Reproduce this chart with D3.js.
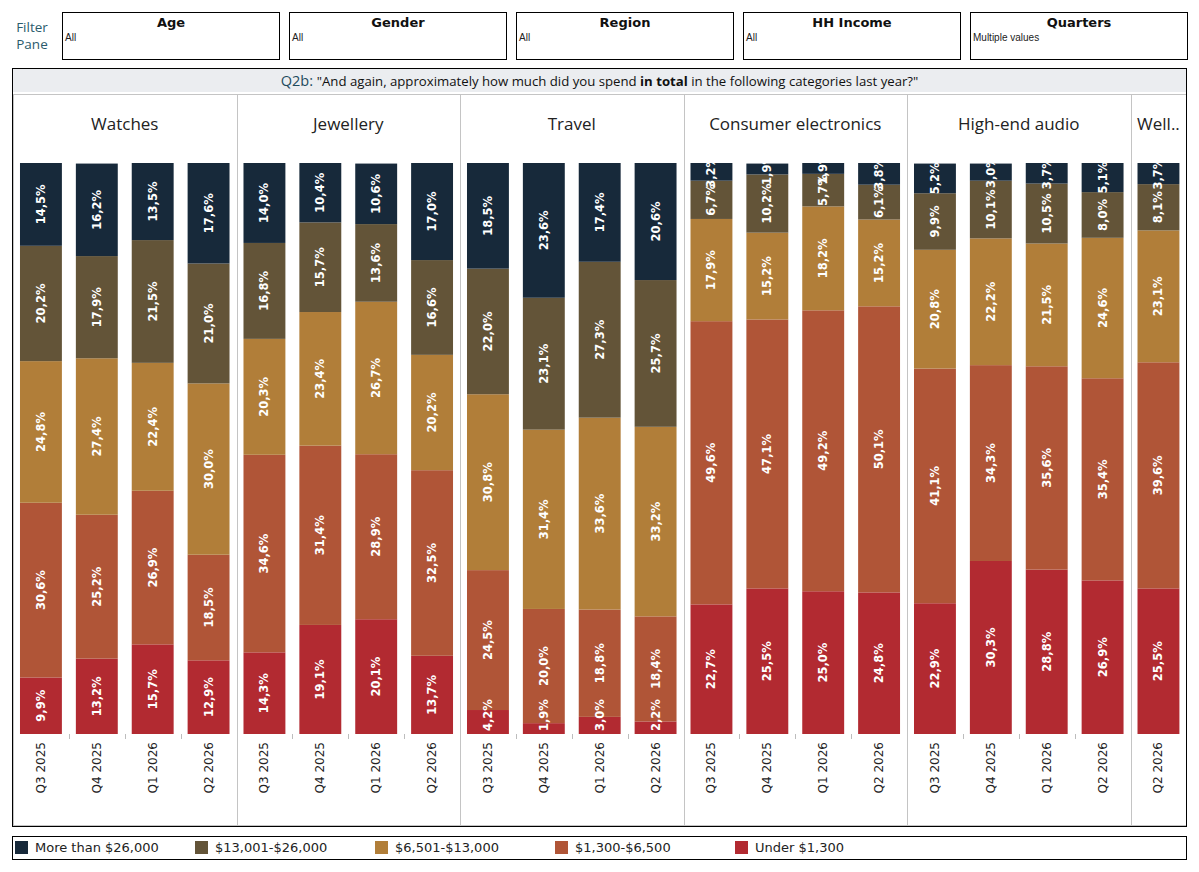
<!DOCTYPE html>
<html><head><meta charset="utf-8">
<script src="https://cdn.jsdelivr.net/npm/d3@7"></script>
<style>body{margin:0;background:#fff}svg{display:block}</style>
</head><body>
<svg id="c" width="1199" height="872"></svg>
<script>
const categories = ["Watches","Jewellery","Travel","Consumer electronics","High-end audio","Wellness"];
const categoryLabels = ["Watches","Jewellery","Travel","Consumer electronics","High-end audio","Well.."];
const quarters = ["Q3 2025","Q4 2025","Q1 2026","Q2 2026"];
const bands = ["Under $1,300","$1,300-$6,500","$6,501-$13,000","$13,001-$26,000","More than $26,000"];
const legendOrder = ["More than $26,000","$13,001-$26,000","$6,501-$13,000","$1,300-$6,500","Under $1,300"];
const colors = ["#b22a31","#b05537","#b17e39","#635438","#17293a"];
const filters = ["Age","Gender","Region","HH Income","Quarters"];
const filterValues = ["All","All","All","All","Multiple values"];

// values per band order: Under, 1300-6500, 6501-13000, 13001-26000, >26000
const watches = [[9.9,30.6,24.8,20.2,14.5],[13.2,25.2,27.4,17.9,16.2],[15.7,26.9,22.4,21.5,13.5],[12.9,18.5,30.0,21.0,17.6]];
const jewellery = [[14.3,34.6,20.3,16.8,14.0],[19.1,31.4,23.4,15.7,10.4],[20.1,28.9,26.7,13.6,10.6],[13.7,32.5,20.2,16.6,17.0]];
const travel = [[4.2,24.5,30.8,22.0,18.5],[1.9,20.0,31.4,23.1,23.6],[3.0,18.8,33.6,27.3,17.4],[2.2,18.4,33.2,25.7,20.6]];
const consumerElectronics = [[22.7,49.6,17.9,6.7,3.2],[25.5,47.1,15.2,10.2,1.9],[25.0,49.2,18.2,5.7,1.9],[24.8,50.1,15.2,6.1,3.8]];
const highEndAudio = [[22.9,41.1,20.8,9.9,5.2],[30.3,34.3,22.2,10.1,3.0],[28.8,35.6,21.5,10.5,3.7],[26.9,35.4,24.6,8.0,5.1]];
const wellness = [[25.5,39.6,23.1,8.1,3.7]];
const wellnessQuarters = ["Q2 2026"];

const seriesByCat = [watches,jewellery,travel,consumerElectronics,highEndAudio,wellness];
const quartersByCat = [quarters,quarters,quarters,quarters,quarters,wellnessQuarters];

const svg = d3.select("#c");
const F_SANS = "'Open Sans', sans-serif";
const F_DV = "'DejaVu Sans', Verdana, sans-serif";

// ---------- filter pane ----------
svg.append("text").attr("x",32).attr("y",32).attr("text-anchor","middle")
  .attr("font-family",F_SANS).attr("font-size",13.5).attr("fill","#2b5b6c").text("Filter");
svg.append("text").attr("x",32).attr("y",49).attr("text-anchor","middle")
  .attr("font-family",F_SANS).attr("font-size",13.5).attr("fill","#2b5b6c").text("Pane");
const fx = d3.scaleBand().domain(filters).range([62,1188]).paddingInner(9/227).paddingOuter(0);
filters.forEach((f,i)=>{
  const g = svg.append("g").attr("transform",`translate(${fx(f)},12)`);
  g.append("rect").attr("x",0.5).attr("y",0.5).attr("width",fx.bandwidth()-1).attr("height",47)
    .attr("fill","#fff").attr("stroke","#000");
  g.append("text").attr("x",fx.bandwidth()/2).attr("y",15).attr("text-anchor","middle")
    .attr("font-family",F_DV).attr("font-weight","bold").attr("font-size",13).attr("fill","#111").text(f);
  g.append("text").attr("x",3).attr("y",29).attr("font-family","'Liberation Sans', Arial, sans-serif")
    .attr("font-size",10).attr("fill","#222").text(filterValues[i]);
});

// ---------- frame & title ----------
const X0=12, X1=1187, Y0=68, Y1=826;
svg.append("rect").attr("x",X0+1).attr("y",Y0+1).attr("width",X1-X0-2).attr("height",23).attr("fill","#ebedf0");
const title = svg.append("text").attr("x",(X0+X1)/2).attr("y",86).attr("text-anchor","middle")
  .attr("font-family",F_SANS).attr("font-size",13.2).attr("fill","#111");
title.append("tspan").attr("fill","#1e4b5c").attr("font-size",14.5).text("Q2b: ");
title.append("tspan").text("\"And again, approximately how much did you spend ");
title.append("tspan").attr("font-weight","bold").text("in total");
title.append("tspan").text(" in the following categories last year?\"");

// ---------- scales ----------
const slots = [];
categories.forEach((c,ci)=>quartersByCat[ci].forEach(q=>slots.push(c+"|"+q)));
const x = d3.scaleBand().domain(slots).range([13,1186.4]).paddingInner(0.25).paddingOuter(0.125);
const PT=163, PB=734;
const y = d3.scaleLinear().domain([0,100]).range([PB,PT]);
const color = d3.scaleOrdinal().domain(bands).range(colors);

// panel area
svg.append("rect").attr("x",13.5).attr("y",94.5).attr("width",X1-X0-2).attr("height",Y1-95)
  .attr("fill","none").attr("stroke","#c4c4c4");

svg.append("clipPath").attr("id","plotclip").append("rect")
  .attr("x",13).attr("y",PT).attr("width",1174).attr("height",PB-PT+40);

const step = x.step();
const start = x(slots[0]) - x.paddingOuter()*step;
let idx = 0;
categories.forEach((c,ci)=>{
  const qs = quartersByCat[ci];
  const px0 = start + idx*step, px1 = start + (idx+qs.length)*step;
  if (ci>0) svg.append("line").attr("x1",Math.round(px0)+0.5).attr("x2",Math.round(px0)+0.5)
     .attr("y1",95).attr("y2",Y1).attr("stroke","#c4c4c4");
  svg.append("text").attr("x",(px0+px1)/2).attr("y",130).attr("text-anchor","middle")
    .attr("font-family",F_SANS).attr("font-size",17).attr("fill","#222").text(categoryLabels[ci]);
  for (let k=1;k<qs.length;k++){
    const tx = Math.round(px0 + k*step)+0.5;
    svg.append("line").attr("x1",tx).attr("x2",tx).attr("y1",PB).attr("y2",PB+5).attr("stroke","#bdbdbd");
  }
  idx += qs.length;
});

// ---------- bars ----------
const gBars = svg.append("g");
const gLab = svg.append("g").attr("clip-path","url(#plotclip)");
categories.forEach((c,ci)=>{
  quartersByCat[ci].forEach((q,qi)=>{
    const key = c+"|"+q;
    const vals = seriesByCat[ci][qi];
    const stack = d3.stack().keys(d3.range(bands.length))([vals]);
    stack.forEach((s,bi)=>{
      const d = s[0];
      const yt = y(Math.min(d[1],100)), yb = y(d[0]);
      gBars.append("rect").attr("x",x(key)).attr("width",x.bandwidth())
        .attr("y",yt).attr("height",Math.max(0,yb-yt)).attr("fill",color(bands[bi]));
      const cx = x(key)+x.bandwidth()/2;
      const t = gLab.append("text").attr("font-family",F_DV).attr("font-weight","bold")
        .attr("font-size",11.5).attr("fill","#fff").attr("text-anchor","middle")
        .attr("dominant-baseline","central")
        .text(d3.format(".1f")(vals[bi]).replace(".",",")+"%");
      let cy = (yt+yb)/2;
      const L = t.node().getComputedTextLength();
      if (cy + L/2 > PB-3) cy = PB-3-L/2;
      t.attr("transform",`translate(${cx},${cy}) rotate(-90)`);
    });
    svg.append("text").attr("font-family",F_DV).attr("font-size",12).attr("fill","#222")
      .attr("text-anchor","end").attr("dominant-baseline","central")
      .attr("transform",`translate(${x(key)+x.bandwidth()/2},742) rotate(-90)`).text(q);
  });
});

// outer frame
svg.append("rect").attr("x",X0+0.5).attr("y",Y0+0.5).attr("width",X1-X0-1).attr("height",Y1-Y0)
  .attr("fill","none").attr("stroke","#000");

// ---------- legend ----------
svg.append("rect").attr("x",X0+0.5).attr("y",836.5).attr("width",X1-X0-1).attr("height",23)
  .attr("fill","none").attr("stroke","#000");
const lx = d3.scalePoint().domain(legendOrder).range([15,15+180*4]);
legendOrder.forEach(b=>{
  svg.append("rect").attr("x",lx(b)).attr("y",841).attr("width",13).attr("height",13).attr("fill",color(b));
  svg.append("text").attr("x",lx(b)+20).attr("y",852).attr("font-family",F_DV).attr("font-size",13)
    .attr("fill","#222").text(b);
});
</script>
</body></html>
